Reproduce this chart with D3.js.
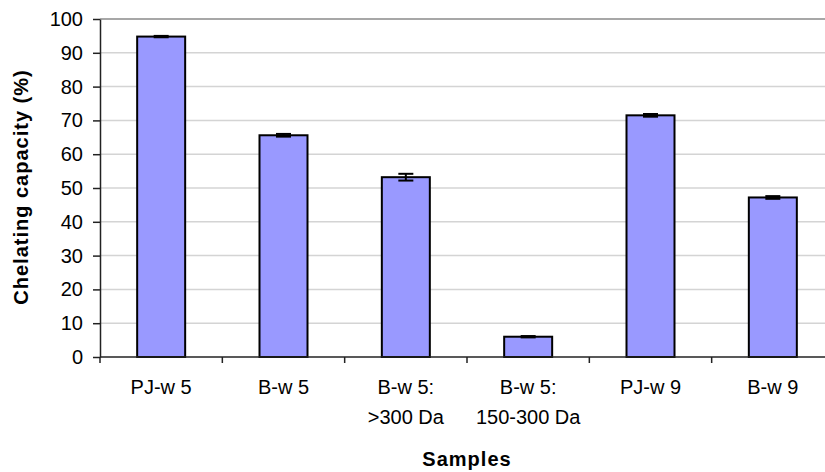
<!DOCTYPE html>
<html>
<head>
<meta charset="utf-8">
<script src="https://cdn.jsdelivr.net/npm/d3@7"></script>
<style>
  html, body { margin: 0; padding: 0; background: #fff; }
  svg { display: block; font-family: "Liberation Sans", Arial, sans-serif; }
</style>
</head>
<body>
<svg id="chart" width="825" height="472"></svg>
<script>
const categories = ["PJ-w 5", "B-w 5", "B-w 5:\n>300 Da", "B-w 5:\n150-300 Da", "PJ-w 9", "B-w 9"];
const values = [94.8, 65.6, 53.2, 6.0, 71.5, 47.2];
const errors = [0.2, 0.4, 1.0, 0.2, 0.4, 0.4];
const yTicks = [0, 10, 20, 30, 40, 50, 60, 70, 80, 90, 100];
const yTitle = "Chelating capacity (%)";
const xTitle = "Samples";

(function () {
const svg = d3.select("#chart");
const mLeft = 100, mRight = 834, mTop = 19, mBottom = 357;

const pad = 1 - 48 / ((mRight - mLeft) / categories.length);
const x = d3.scaleBand().domain(categories).range([mLeft, mRight]).paddingInner(pad).paddingOuter(pad / 2);
const y = d3.scaleLinear().domain([0, 100]).range([mBottom, mTop]);

// gridlines
svg.append("g").selectAll("line").data(yTicks.filter(t => t > 0 && t < 100)).join("line")
  .attr("x1", mLeft).attr("x2", mRight)
  .attr("y1", d => y(d)).attr("y2", d => y(d))
  .attr("stroke", "#d4d4d4").attr("stroke-width", 1.5);

// plot border top
svg.append("line").attr("x1", mLeft).attr("x2", mRight).attr("y1", y(100)).attr("y2", y(100))
  .attr("stroke", "#8a8a8a").attr("stroke-width", 1.5);

// bars
svg.append("g").selectAll("rect").data(categories).join("rect")
  .attr("x", d => x(d)).attr("width", x.bandwidth())
  .attr("y", (d, i) => y(values[i])).attr("height", (d, i) => y(0) - y(values[i]))
  .attr("fill", "#9999ff").attr("stroke", "#000").attr("stroke-width", 2);

// error bars
const eb = svg.append("g").attr("stroke", "#000").attr("stroke-width", 2);
categories.forEach((c, i) => {
  const cx = x(c) + x.bandwidth() / 2;
  const y1 = y(values[i] + errors[i]), y2 = y(values[i] - errors[i]);
  eb.append("line").attr("x1", cx).attr("x2", cx).attr("y1", y1).attr("y2", y2);
  eb.append("line").attr("x1", cx - 7.5).attr("x2", cx + 7.5).attr("y1", y1).attr("y2", y1);
  eb.append("line").attr("x1", cx - 7.5).attr("x2", cx + 7.5).attr("y1", y2).attr("y2", y2);
});

// y axis
const yAxis = d3.axisLeft(y).tickValues(yTicks).tickSize(7).tickPadding(10).tickSizeOuter(0);
const gy = svg.append("g").attr("transform", `translate(${mLeft},0)`).call(yAxis);
gy.select(".domain").attr("stroke", "#222").attr("stroke-width", 1.5);
gy.selectAll(".tick line").attr("stroke", "#222").attr("stroke-width", 1.5);
gy.selectAll(".tick text").attr("font-size", 20).attr("fill", "#000")
  .attr("font-family", "Liberation Sans, Arial, sans-serif");

// x axis line
svg.append("line").attr("x1", mLeft).attr("x2", mRight).attr("y1", mBottom).attr("y2", mBottom)
  .attr("stroke", "#222").attr("stroke-width", 1.5);
const step = x.step();
const bounds = categories.map(c => x(c) - (step - x.bandwidth()) / 2);
svg.append("g").selectAll("line").data(bounds).join("line")
  .attr("x1", d => d).attr("x2", d => d).attr("y1", mBottom).attr("y2", mBottom + 6)
  .attr("stroke", "#222").attr("stroke-width", 1.5);

// x labels
const xl = svg.append("g").attr("font-size", 20).attr("text-anchor", "middle").attr("fill", "#000");
categories.forEach(c => {
  const lines = c.split("\n");
  const t = xl.append("text").attr("x", x(c) + x.bandwidth() / 2).attr("y", 394);
  lines.forEach((ln, j) => {
    t.append("tspan").attr("x", x(c) + x.bandwidth() / 2).attr("y", 394 + j * 30).text(ln);
  });
});

// titles
svg.append("text").attr("x", 467).attr("y", 466).attr("text-anchor", "middle")
  .attr("font-size", 20).attr("font-weight", "bold").attr("letter-spacing", 1).text(xTitle);
svg.append("text").attr("transform", `translate(28,187) rotate(-90)`).attr("text-anchor", "middle")
  .attr("font-size", 20).attr("font-weight", "bold").attr("letter-spacing", 1).text(yTitle);
})();
</script>
</body>
</html>
